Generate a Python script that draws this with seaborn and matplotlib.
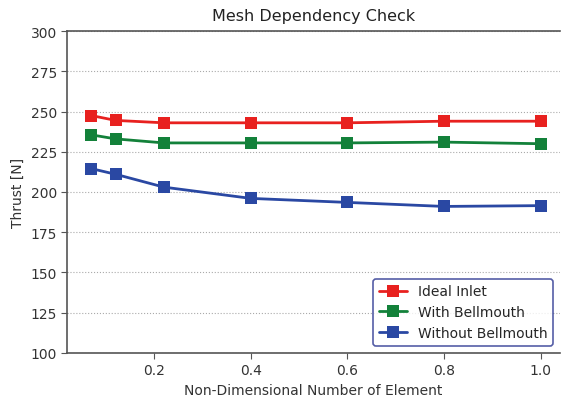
import matplotlib
matplotlib.use("Agg")
import matplotlib.pyplot as plt
import seaborn as sns
import pandas as pd

x = [0.07, 0.12, 0.22, 0.4, 0.6, 0.8, 1.0]
ideal = [247.5, 244.5, 243, 243, 243, 244, 244]
bell = [235.5, 233, 230.5, 230.5, 230.5, 231, 230]
nobell = [214.5, 211, 203, 196, 193.5, 191, 191.5]
names = ["Ideal Inlet", "With Bellmouth", "Without Bellmouth"]
colors = ["#e8211f", "#13813a", "#2a48a3"]

df = pd.concat([pd.DataFrame({"x": x, "y": v, "s": n}) for v, n in zip([ideal, bell, nobell], names)])

sns.set_style("white")
fig, ax = plt.subplots(figsize=(5.61, 4.02), dpi=100)
sns.lineplot(data=df, x="x", y="y", hue="s", palette=colors, marker="s", markersize=8,
             markeredgewidth=0, linewidth=2, ax=ax)
ax.set_xlim(0.02, 1.04)
ax.set_ylim(100, 300)
ax.set_yticks(range(100, 301, 25))
ax.set_xticks([0.2, 0.4, 0.6, 0.8, 1.0])
ax.yaxis.grid(True, linestyle=":", color="#aaaaaa", linewidth=0.8)
ax.set_axisbelow(True)
ax.spines["right"].set_visible(False)
for s in ["left", "bottom", "top"]:
    ax.spines[s].set_color("#555555")
    ax.spines[s].set_linewidth(1.2)
ax.tick_params(axis="both", which="both", direction="out", length=4, color="#555555", labelsize=10, labelcolor="#333333", left=True, bottom=True)
ax.set_xlabel("Non-Dimensional Number of Element", fontsize=10, color="#333333")
ax.set_ylabel("Thrust [N]", fontsize=10, color="#333333")
ax.set_title("Mesh Dependency Check", fontsize=11.5, color="#222222", pad=8)
leg = ax.legend(title=None, loc="lower right", frameon=True, fancybox=True, fontsize=10)
leg.get_frame().set_edgecolor("#2a3590")
leg.get_frame().set_linewidth(1.2)
fig.subplots_adjust(left=0.12, right=0.998, bottom=0.12, top=0.92)
fig.savefig("out.png", dpi=100)
